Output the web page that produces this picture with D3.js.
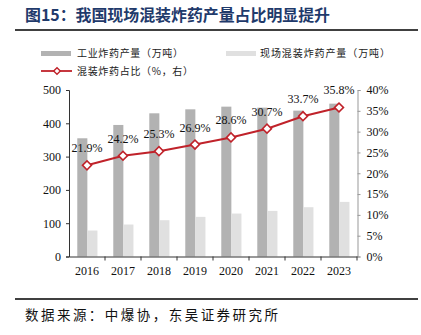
<!DOCTYPE html>
<html><head><meta charset="utf-8">
<script src="https://cdn.jsdelivr.net/npm/d3@7/dist/d3.min.js"></script>
<style>body{margin:0;background:#fff}svg{display:block}</style>
</head><body>
<svg id="c" width="421" height="335"></svg>
<script>
const years = ["2016","2017","2018","2019","2020","2021","2022","2023"];
const industrial = [355, 395, 430, 442, 450, 447, 438, 459];
const onsite = [78, 96, 109, 119, 129, 137, 148, 164];
const share = [21.9, 24.2, 25.3, 26.9, 28.6, 30.7, 33.7, 35.8];
const leftTicks = [0,100,200,300,400,500];
const rightTicks = [0,5,10,15,20,25,30,35,40];
const seriesNames = ["工业炸药产量（万吨）","现场混装炸药产量（万吨）","混装炸药占比（%，右）"];
const title = "图15：我国现场混装炸药产量占比明显提升";
const source = "数据来源：中爆协，东吴证券研究所";

const svg = d3.select("#c");
const serif = "'Liberation Serif','Times New Roman',serif";
const cjk = "'Noto Sans CJK SC','Noto Sans',sans-serif";
const dark = "#b2b2b2", light = "#e0e0e0", red = "#c0222a";

// title & rules
svg.append("text").attr("x",25).attr("y",21).attr("font-family",cjk).attr("font-weight","bold")
  .attr("font-size",16).attr("fill","#1f3a6b").attr("textLength",305).attr("lengthAdjust","spacingAndGlyphs").text(title);
svg.append("line").attr("x1",15).attr("x2",418).attr("y1",30).attr("y2",30).attr("stroke","#000").attr("stroke-width",1.5);
svg.append("line").attr("x1",15).attr("x2",418).attr("y1",299).attr("y2",299).attr("stroke","#000").attr("stroke-width",1.5);
svg.append("text").attr("x",25).attr("y",320).attr("font-family",cjk).attr("font-size",13.5)
  .attr("fill","#111").attr("textLength",253).attr("lengthAdjust","spacing").text(source);

// scales
const x = d3.scaleBand().domain(years).range([69,357]).padding(0);
const bw = x.bandwidth();
const x1 = d3.scaleBand().domain(["a","b"]).range([bw*0.23, bw*0.79]).padding(0);
const yL = d3.scaleLinear().domain([0,500]).range([256.5,90]);
const yR = d3.scaleLinear().domain([0,40]).range([256.5,90]);

// bars
const g = svg.append("g");
g.selectAll("rect.ind").data(industrial).join("rect").attr("class","ind")
  .attr("x",(d,i)=>x(years[i])+x1("a")).attr("width",x1.bandwidth())
  .attr("y",d=>yL(d)).attr("height",d=>yL(0)-yL(d)).attr("fill",dark);
g.selectAll("rect.ons").data(onsite).join("rect").attr("class","ons")
  .attr("x",(d,i)=>x(years[i])+x1("b")).attr("width",x1.bandwidth())
  .attr("y",d=>yL(d)).attr("height",d=>yL(0)-yL(d)).attr("fill",light);

// axes
const axL = svg.append("g").attr("transform","translate(69,0)")
  .call(d3.axisLeft(yL).tickValues(leftTicks).tickSize(3).tickPadding(5));
axL.select(".domain").attr("stroke","#333");
axL.selectAll(".tick line").attr("stroke","#333");
axL.selectAll("text").attr("font-family",serif).attr("font-size",12).attr("fill","#111");

const axR = svg.append("g").attr("transform","translate(357.5,0)")
  .call(d3.axisRight(yR).tickValues(rightTicks).tickFormat(d=>d+"%").tickSize(3).tickPadding(6));
axR.select(".domain").attr("stroke","#999");
axR.selectAll(".tick line").attr("stroke","#999");
axR.selectAll("text").attr("font-family",serif).attr("font-size",12).attr("fill","#111");

const axB = svg.append("g").attr("transform","translate(0,256.5)")
  .call(d3.axisBottom(x).tickSize(0).tickPadding(10));
axB.select(".domain").attr("stroke","#333");
axB.selectAll("text").attr("font-family",serif).attr("font-size",12).attr("fill","#111");
// boundary ticks
axB.selectAll("line.bt").data(years.slice(1)).join("line").attr("class","bt")
  .attr("x1",d=>x(d)).attr("x2",d=>x(d)).attr("y1",0).attr("y2",4).attr("stroke","#333");
axB.append("line").attr("x1",357).attr("x2",357).attr("y1",0).attr("y2",4).attr("stroke","#333");

// line
const cx = (d,i)=>x(years[i])+bw/2;
svg.append("path").datum(share).attr("fill","none").attr("stroke",red).attr("stroke-width",2)
  .attr("d",d3.line().x(cx).y(d=>yR(d)));
svg.selectAll("path.mk").data(share).join("path").attr("class","mk")
  .attr("d",d3.symbol(d3.symbolSquare,40)())
  .attr("transform",(d,i)=>`translate(${cx(d,i)},${yR(d)}) rotate(45)`)
  .attr("fill","#fff").attr("stroke",red).attr("stroke-width",1.6);
svg.selectAll("text.lbl").data(share).join("text").attr("class","lbl")
  .attr("x",cx).attr("y",d=>yR(d)-13).attr("text-anchor","middle")
  .attr("font-family",serif).attr("font-size",12).attr("fill","#111").text(d=>d.toFixed(1)+"%");

// legend
const lg = svg.append("g").attr("font-family",cjk).attr("font-size",10).attr("fill","#222");
lg.append("rect").attr("x",41).attr("y",51).attr("width",30).attr("height",5).attr("fill",dark);
lg.append("text").attr("x",77).attr("y",57).attr("textLength",106).attr("lengthAdjust","spacing").text(seriesNames[0]);
lg.append("rect").attr("x",226).attr("y",51).attr("width",30).attr("height",5).attr("fill",light);
lg.append("text").attr("x",260).attr("y",57).attr("textLength",130).attr("lengthAdjust","spacing").text(seriesNames[1]);
lg.append("line").attr("x1",41).attr("x2",72).attr("y1",71).attr("y2",71).attr("stroke",red).attr("stroke-width",1.8);
lg.append("path").attr("d",d3.symbol(d3.symbolSquare,22)()).attr("transform","translate(57,71) rotate(45)")
  .attr("fill","#fff").attr("stroke",red).attr("stroke-width",1.4);
lg.append("text").attr("x",77).attr("y",75).attr("textLength",116).attr("lengthAdjust","spacing").text(seriesNames[2]);
</script>
</body></html>
